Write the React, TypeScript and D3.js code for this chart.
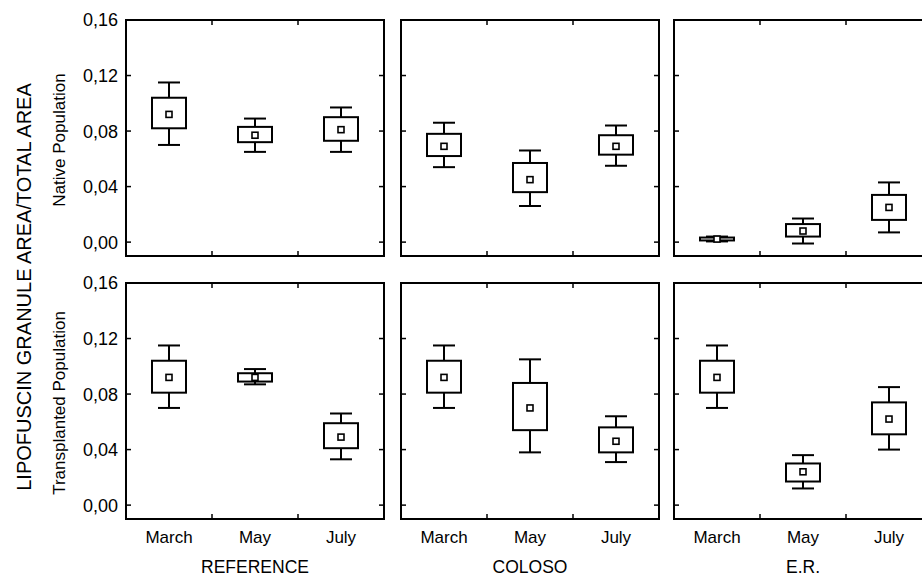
import React from 'react'
import * as d3 from 'd3'

// categories
const months = ['March', 'May', 'July']
const groups = ['REFERENCE', 'COLOSO', 'E.R.']
const populations = ['Native Population', 'Transplanted Population']
const yTicks = [0, 0.04, 0.08, 0.12, 0.16]

// each entry: [whisker low, box low, mean, box high, whisker high] per month
const nativeReference = [
  [0.070, 0.082, 0.092, 0.104, 0.115],
  [0.065, 0.072, 0.077, 0.083, 0.089],
  [0.065, 0.073, 0.081, 0.090, 0.097],
]
const nativeColoso = [
  [0.054, 0.062, 0.069, 0.078, 0.086],
  [0.026, 0.036, 0.045, 0.057, 0.066],
  [0.055, 0.063, 0.069, 0.077, 0.084],
]
const nativeER = [
  [0.0005, 0.0012, 0.0022, 0.0033, 0.0040],
  [-0.001, 0.004, 0.008, 0.013, 0.017],
  [0.007, 0.016, 0.025, 0.034, 0.043],
]
const transReference = [
  [0.070, 0.081, 0.092, 0.104, 0.115],
  [0.087, 0.089, 0.092, 0.095, 0.098],
  [0.033, 0.041, 0.049, 0.059, 0.066],
]
const transColoso = [
  [0.070, 0.081, 0.092, 0.104, 0.115],
  [0.038, 0.054, 0.070, 0.088, 0.105],
  [0.031, 0.038, 0.046, 0.056, 0.064],
]
const transER = [
  [0.070, 0.081, 0.092, 0.104, 0.115],
  [0.012, 0.017, 0.024, 0.030, 0.036],
  [0.040, 0.051, 0.062, 0.074, 0.085],
]

const panelData = [
  [nativeReference, nativeColoso, nativeER],
  [transReference, transColoso, transER],
]

const W = 922
const H = 579
const panelLeft = [126, 401, 674]
const panelWidth = 258
const panelTop = [20, 283]
const panelHeight = 236
const font = 'Arial, "Liberation Sans", sans-serif'
const fmt = (v: number) => d3.format('.2f')(v).replace('.', ',')

function Panel({ row, col }: { row: number; col: number }) {
  const x0 = panelLeft[col]
  const y0 = panelTop[row]
  const x = d3.scaleBand().domain(months).range([x0, x0 + panelWidth]).padding(0)
  const y = d3.scaleLinear().domain([-0.01, 0.16]).range([y0 + panelHeight, y0])
  const boxW = 34
  const capW = 22
  const tk = 5
  const bounds = months.slice(1).map(m => x(m) as number)
  return (
    <g>
      {/* y ticks, inward on both sides */}
      {yTicks.map(t => (
        <g key={t}>
          <line x1={x0} x2={x0 + tk} y1={y(t)} y2={y(t)} stroke="#000" strokeWidth={1.5} />
          <line x1={x0 + panelWidth} x2={x0 + panelWidth - tk} y1={y(t)} y2={y(t)} stroke="#000" strokeWidth={1.5} />
          {col === 0 && (
            <text x={x0 - 8} y={y(t)} dy="0.36em" textAnchor="end" fontSize={18} fontFamily={font}>{fmt(t)}</text>
          )}
        </g>
      ))}
      {/* x ticks at category boundaries */}
      {bounds.map(b => (
        <g key={b}>
          <line x1={b} x2={b} y1={y0 + panelHeight} y2={y0 + panelHeight - tk} stroke="#000" strokeWidth={1.5} />
          <line x1={b} x2={b} y1={y0} y2={y0 + tk} stroke="#000" strokeWidth={1.5} />
        </g>
      ))}
      {/* boxes */}
      {panelData[row][col].map((d, i) => {
        const cx = (x(months[i]) as number) + x.bandwidth() / 2
        const [wl, bl, m, bh, wh] = d
        return (
          <g key={i} stroke="#000" strokeWidth={2} fill="none">
            <line x1={cx} x2={cx} y1={y(wh)} y2={y(bh)} />
            <line x1={cx} x2={cx} y1={y(bl)} y2={y(wl)} />
            <line x1={cx - capW / 2} x2={cx + capW / 2} y1={y(wh)} y2={y(wh)} />
            <line x1={cx - capW / 2} x2={cx + capW / 2} y1={y(wl)} y2={y(wl)} />
            <rect x={cx - boxW / 2} y={y(bh)} width={boxW} height={y(bl) - y(bh)} fill="#fff" />
            <rect x={cx - 3} y={y(m) - 3} width={6} height={6} fill="#fff" strokeWidth={1.6} />
          </g>
        )
      })}
      <rect x={x0} y={y0} width={panelWidth} height={panelHeight} fill="none" stroke="#000" strokeWidth={2} />
      {row === 1 && months.map(mo => (
        <text key={mo} x={(x(mo) as number) + x.bandwidth() / 2} y={543} textAnchor="middle" fontSize={17} fontFamily={font}>{mo}</text>
      ))}
      {row === 1 && (
        <text x={x0 + panelWidth / 2} y={573} textAnchor="middle" fontSize={17.5} fontFamily={font}>{groups[col]}</text>
      )}
    </g>
  )
}

export default function App() {
  return (
    <svg width={W} height={H} style={{ position: 'absolute', left: 0, top: 0, background: '#fff' }}>
      <rect width={W} height={H} fill="#fff" />
      <text transform="translate(31,287) rotate(-90)" textAnchor="middle" fontSize={20} fontFamily={font}>
        LIPOFUSCIN GRANULE AREA/TOTAL AREA
      </text>
      {populations.map((p, r) => (
        <text key={p} transform={`translate(65,${panelTop[r] + 120}) rotate(-90)`} textAnchor="middle" fontSize={17} fontFamily={font}>
          {p}
        </text>
      ))}
      {populations.map((p, r) => groups.map((g, c) => <Panel key={p + g} row={r} col={c} />))}
    </svg>
  )
}
